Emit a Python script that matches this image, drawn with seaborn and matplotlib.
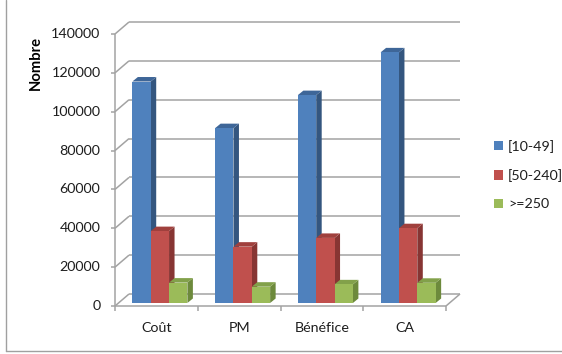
import matplotlib
matplotlib.use("Agg")
import matplotlib.pyplot as plt
import matplotlib.colors as mcolors
from matplotlib.patches import Polygon, Rectangle
from matplotlib.lines import Line2D
import pandas as pd
import seaborn as sns

# ---- data ----
categories = ["Coût", "PM", "Bénéfice", "CA"]
series = ["[10-49]", "[50-240]", ">=250"]
values_10_49 = [114000, 90000, 107000, 129000]
values_50_240 = [37000, 29000, 33500, 38500]
values_250 = [10500, 8400, 9600, 10400]
yticks = [0, 20000, 40000, 60000, 80000, 100000, 120000, 140000]

face_colors = ["#4F81BD", "#C0504D", "#9BBB59"]
side_colors = ["#34567F", "#873533", "#6D8A3C"]
top_colors = ["#3E6698", "#A0403D", "#82A14A"]

df = pd.DataFrame({
    "Catégorie": categories * 3,
    "Tranche": [series[0]] * 4 + [series[1]] * 4 + [series[2]] * 4,
    "Valeur": values_10_49 + values_50_240 + values_250,
})

sns.set_theme(style="white")
plt.rcParams["font.family"] = ["Lato", "DejaVu Sans"]

W, H = 562, 354
fig = plt.figure(figsize=(W / 100, H / 100), dpi=100)
fig.patch.set_facecolor("white")

# axes placed on the plane where the bars stand (pixel geometry)
x0, x1 = 118.5, 449.5
ybase, ytop = 303, 31
ax = fig.add_axes([x0 / W, (H - ybase) / H, (x1 - x0) / W, (ybase - ytop) / H])
ax.set_xlim(-0.5, 3.5)
ax.set_ylim(0, yticks[-1])
ax.axis("off")

px_x = 4 / (x1 - x0)
px_y = yticks[-1] / (ybase - ytop)


def shift(x, y, dx, dy):
    """Move a data point by a pixel offset (dy positive = up)."""
    return x + dx * px_x, y + dy * px_y


FRONT = (-3.5, -3.0)
BACK = (10.5, 9.0)
DEPTH = (5.5, 4.5)
grid_c = "#A3A3A3"
grid_lw = 1.1
text_c = "#1E1E1E"
fs = 10.3


def seg(p, q, **kw):
    ax.add_line(Line2D([p[0], q[0]], [p[1], q[1]], color=grid_c, lw=grid_lw,
                       clip_on=False, solid_capstyle="butt", zorder=1, **kw))


# walls: back gridlines, side-wall diagonals, front axis ticks and labels
for v in yticks:
    seg(shift(-0.5, v, *BACK), shift(3.5, v, *BACK))
    seg(shift(-0.5, v, *FRONT), shift(-0.5, v, *BACK))
    seg(shift(-0.5, v, FRONT[0] - 4, FRONT[1]), shift(-0.5, v, *FRONT))
    tx, ty = shift(-0.5, v, FRONT[0] - 14.5, FRONT[1])
    ax.text(tx, ty, f"{v}", ha="right", va="center", fontsize=fs,
            color=text_c, clip_on=False)

# front vertical axis
seg(shift(-0.5, 0, *FRONT), shift(-0.5, yticks[-1], *FRONT))

# floor
seg(shift(-0.5, 0, *FRONT), shift(3.5, 0, *FRONT))
seg(shift(3.5, 0, *FRONT), shift(3.5, 0, *BACK))
for b in [-0.5, 0.5, 1.5, 2.5, 3.5]:
    seg(shift(b, 0, *FRONT), shift(b, 0, FRONT[0], FRONT[1] - 5))

for j, c in enumerate(categories):
    tx, ty = shift(j, 0, FRONT[0], -25)
    ax.text(tx, ty, c, ha="center", va="center", fontsize=fs,
            color=text_c, clip_on=False)

# bars
sns.barplot(data=df, x="Catégorie", y="Valeur", hue="Tranche",
            order=categories, hue_order=series, palette=face_colors,
            saturation=1, width=0.665, linewidth=0, edgecolor="none",
            legend=False, ax=ax)
ax.set_xlim(-0.5, 3.5)
ax.set_ylim(0, yticks[-1])
ax.axis("off")

hex_faces = [c.lower() for c in face_colors]
bars = [p for p in ax.patches if isinstance(p, Rectangle) and p.get_height() > 0]
bars.sort(key=lambda p: p.get_x())
dx, dy = DEPTH[0] * px_x, DEPTH[1] * px_y
for rank, p in enumerate(bars):
    k = hex_faces.index(mcolors.to_hex(p.get_facecolor()).lower())
    x, w, h = p.get_x(), p.get_width(), p.get_height()
    side = Polygon([(x + w, 0), (x + w + dx, dy), (x + w + dx, h + dy), (x + w, h)],
                   closed=True, fc=side_colors[k], ec="none", clip_on=False,
                   zorder=10 + 3 * rank)
    top = Polygon([(x, h), (x + w, h), (x + w + dx, h + dy), (x + dx, h + dy)],
                  closed=True, fc=top_colors[k], ec="none", clip_on=False,
                  zorder=11 + 3 * rank)
    ax.add_patch(side)
    ax.add_patch(top)
    p.set_zorder(12 + 3 * rank)
    p.set_clip_on(False)

# y label
fig.text(36 / W, 1 - 62.5 / H, "Nombre", rotation=90, ha="center", va="center",
         fontsize=10.6, fontweight="bold", color="black")

# legend
handles = [Rectangle((0, 0), 1, 1, fc=c, ec="none") for c in face_colors]
fig.legend(handles, series, loc="center left",
           bbox_to_anchor=(487 / W, 1 - 175 / H), frameon=False,
           fontsize=fs, handlelength=0.62, handleheight=0.62,
           handletextpad=0.35, labelspacing=1.15, borderpad=0,
           labelcolor=text_c)

# chart border
fig.add_artist(Line2D([6.5 / W, 6.5 / W], [3.3 / H, 1.0], color="#A0A0A0",
                      lw=1.0, transform=fig.transFigure))
fig.add_artist(Line2D([6.5 / W, 1.0], [3.3 / H, 3.3 / H], color="#A0A0A0",
                      lw=1.0, transform=fig.transFigure))

fig.savefig("out.png", dpi=100)
